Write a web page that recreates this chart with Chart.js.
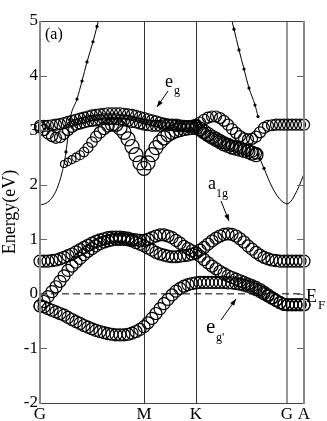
<!DOCTYPE html>
<html>
<head>
<meta charset="utf-8">
<script src="https://cdn.jsdelivr.net/npm/chart.js@4.4.1/dist/chart.umd.min.js"></script>
<style>
  html, body { margin: 0; padding: 0; background: #fff; }
  canvas { display: block; }
</style>
</head>
<body>
<canvas id="bandChart" width="327" height="421"></canvas>
<script>
// k-path sample points (arbitrary units along G-M-K-G-A)
const kGrid = [0, 4, 8, 12, 16, 20, 24, 28, 32, 36, 40, 44, 48, 52, 56, 60, 64, 68, 72, 76,
    80, 84, 88, 92, 96, 100, 104, 108, 112, 116, 120, 124, 128, 132, 136, 140, 144, 148, 152, 156,
    160, 164, 168, 172, 176, 180, 184, 188, 192, 196, 200, 204, 208, 212, 216, 220, 224, 228, 232, 236,
    240, 244, 248, 252, 256, 260, 264];
const kTicks = [0, 104, 156, 247, 264];
const kLabels = ['G', 'M', 'K', 'G', 'A'];

// t2g-like fat bands (eV)
const bandT1 = [0.6, 0.6, 0.6, 0.61, 0.62, 0.64, 0.67, 0.7, 0.73, 0.77, 0.81, 0.85, 0.89, 0.93, 0.96, 0.99, 1.01, 1.03, 1.04, 1.04,
    1.04, 1.03, 1.02, 1.0, 0.99, 0.98, 0.98, 1.0, 1.03, 1.06, 1.08, 1.08, 1.06, 1.03, 0.98, 0.93, 0.87, 0.83, 0.79, 0.75,
    0.69, 0.63, 0.57, 0.51, 0.46, 0.41, 0.37, 0.33, 0.3, 0.27, 0.24, 0.21, 0.18, 0.15, 0.12, 0.08, 0.03, -0.02, -0.07, -0.12,
    -0.16, -0.19, -0.2, -0.2, -0.2, -0.2, -0.2];
const bandT2 = [-0.22, -0.14, -0.05, 0.04, 0.13, 0.23, 0.33, 0.43, 0.51, 0.58, 0.65, 0.72, 0.78, 0.83, 0.88, 0.92, 0.95, 0.97, 0.99, 1.0,
    1.0, 1.0, 0.99, 0.97, 0.94, 0.91, 0.88, 0.84, 0.8, 0.76, 0.73, 0.71, 0.69, 0.68, 0.68, 0.69, 0.7, 0.71, 0.73, 0.75,
    0.8, 0.85, 0.91, 0.97, 1.02, 1.06, 1.09, 1.1, 1.09, 1.06, 1.01, 0.95, 0.88, 0.82, 0.76, 0.71, 0.67, 0.64, 0.62, 0.61,
    0.6, 0.6, 0.6, 0.6, 0.6, 0.6, 0.6];
const bandT3 = [-0.22, -0.24, -0.27, -0.3, -0.33, -0.36, -0.39, -0.43, -0.47, -0.51, -0.54, -0.58, -0.61, -0.64, -0.67, -0.69, -0.71, -0.73, -0.74, -0.75,
    -0.75, -0.75, -0.74, -0.72, -0.69, -0.65, -0.6, -0.53, -0.45, -0.36, -0.27, -0.18, -0.1, -0.02, 0.05, 0.1, 0.14, 0.17, 0.19, 0.2,
    0.21, 0.21, 0.21, 0.21, 0.21, 0.21, 0.21, 0.2, 0.2, 0.19, 0.18, 0.16, 0.14, 0.11, 0.08, 0.04, 0.0, -0.04, -0.08, -0.12,
    -0.16, -0.19, -0.2, -0.2, -0.2, -0.2, -0.2];

// eg-like fat bands (eV), null where the band is not drawn
const bandE1 = [3.08, 3.08, 3.08, 3.09, 3.1, 3.11, 3.13, 3.15, 3.17, 3.19, 3.21, 3.23, 3.25, 3.27, 3.28, 3.29, 3.3, 3.31, 3.31, 3.31,
    3.31, 3.3, 3.29, 3.28, 3.26, 3.24, 3.22, 3.2, 3.18, 3.16, 3.14, 3.12, 3.1, 3.09, 3.08, 3.07, 3.07, 3.07, 3.08, 3.1,
    3.14, 3.19, 3.23, 3.25, 3.25, 3.22, 3.17, 3.1, 3.02, 2.95, 2.89, 2.85, 2.83, 2.84, 2.88, 2.96, 3.04, 3.08, 3.09, 3.1,
    3.1, 3.1, 3.1, 3.1, 3.1, 3.1, 3.1];
const bandE2 = [3.05, 3.0, 2.94, 2.89, 2.86, 2.87, 2.93, 3.0, 3.06, 3.1, 3.12, 3.14, 3.16, 3.17, 3.18, 3.19, 3.2, 3.2, 3.2, 3.2,
    3.19, 3.18, 3.17, 3.15, 3.14, 3.12, 3.1, 3.09, 3.08, 3.08, 3.08, 3.09, 3.1, 3.1, 3.1, 3.09, 3.08, 3.07, 3.06, 3.05,
    3.0, 2.95, 2.9, 2.86, 2.82, 2.79, 2.76, 2.73, 2.71, 2.69, 2.67, 2.65, 2.63, 2.6, 2.57, null, null, null, null, null,
    null, null, null, null, null, null, null];
const bandE3 = [null, null, null, null, null, null, 2.38, 2.42, 2.46, 2.5, 2.54, 2.6, 2.68, 2.78, 2.88, 2.96, 3.03, 3.08, 3.1, 3.1,
    3.04, 2.96, 2.84, 2.7, 2.55, 2.4, 2.3, 2.4, 2.55, 2.68, 2.78, 2.86, 2.92, 2.96, 2.99, 3.01, 3.03, 3.04, 3.05, 3.05,
    3.02, 2.97, 2.92, 2.87, 2.83, 2.79, 2.75, 2.72, 2.69, 2.67, 2.65, 2.63, 2.61, 2.58, 2.55, null, null, null, null, null,
    null, null, null, null, null, null, null];

// dispersive (thin line) bands
const lineLeftK = [0, 6, 12, 17, 22, 26, 30, 37, 42, 47, 53, 57, 61];
const lineLeftE = [1.63, 1.66, 1.76, 1.93, 2.22, 2.6, 3.2, 3.57, 3.9, 4.25, 4.62, 4.9, 5.2];
const lineTopRightK = [190, 194, 199, 204, 209, 215, 218];
const lineTopRightE = [5.15, 4.85, 4.47, 4.12, 3.77, 3.46, 3.25];
const lineLowRightK = [218, 220, 224, 228, 232, 236, 240, 244, 247, 251, 255, 259, 264];
const lineLowRightE = [2.55, 2.47, 2.3, 2.12, 1.96, 1.83, 1.73, 1.67, 1.65, 1.7, 1.82, 1.97, 2.2];

const serif = 'Liberation Serif';

function toPoints(ks, es) {
    const pts = [];
    ks.forEach((k, i) => {
        if (es[i] !== null) pts.push({ x: k, y: es[i] });
    });
    return pts;
}

function fatBand(values, radius) {
    return {
        data: toPoints(kGrid, values),
        showLine: false,
        pointStyle: 'circle',
        pointRadius: radius,
        pointBorderWidth: 1.2,
        pointBorderColor: '#000',
        pointBackgroundColor: 'rgba(0,0,0,0)',
        clip: false
    };
}

function thinBand(ks, es) {
    return {
        data: toPoints(ks, es),
        showLine: true,
        borderColor: '#000',
        borderWidth: 1,
        cubicInterpolationMode: 'monotone',
        pointRadius: ctx => (ctx.raw && ctx.raw.y > 2.25) ? 1.6 : 0,
        pointBackgroundColor: '#000',
        pointBorderColor: '#000',
        pointBorderWidth: 0
    };
}

const fermiLine = {
    data: [{ x: 0, y: 0 }, { x: 264, y: 0 }],
    showLine: true,
    borderColor: '#000',
    borderWidth: 1,
    borderDash: [7, 4],
    pointRadius: 0
};

function arrow(c, x1, y1, x2, y2) {
    const a = Math.atan2(y2 - y1, x2 - x1);
    c.beginPath();
    c.moveTo(x1, y1);
    c.lineTo(x2, y2);
    c.stroke();
    c.beginPath();
    c.moveTo(x2, y2);
    c.lineTo(x2 - 7 * Math.cos(a - 0.35), y2 - 7 * Math.sin(a - 0.35));
    c.lineTo(x2 - 7 * Math.cos(a + 0.35), y2 - 7 * Math.sin(a + 0.35));
    c.closePath();
    c.fill();
}

const decorations = {
    id: 'decorations',
    afterDraw(chart) {
        const c = chart.ctx;
        const area = chart.chartArea;
        const ys = chart.scales.y;
        c.save();

        // frame
        c.strokeStyle = '#444';
        c.lineWidth = 1;
        c.beginPath();
        c.moveTo(area.left, area.top + 0.5);
        c.lineTo(area.right, area.top + 0.5);
        c.moveTo(area.left, area.bottom + 0.5);
        c.lineTo(area.right, area.bottom + 0.5);
        c.stroke();
        c.strokeStyle = '#888';
        c.lineWidth = 2;
        c.beginPath();
        c.moveTo(area.left, area.top);
        c.lineTo(area.left, area.bottom + 1);
        c.moveTo(area.right, area.top);
        c.lineTo(area.right, area.bottom + 1);
        c.stroke();

        // inward ticks
        c.strokeStyle = '#666';
        c.lineWidth = 1;
        c.beginPath();
        for (let v = -1; v <= 4; v++) {
            const y = Math.round(ys.getPixelForValue(v)) + 0.5;
            c.moveTo(area.left, y);
            c.lineTo(area.left + 7, y);
            c.moveTo(area.right - 7, y);
            c.lineTo(area.right, y);
        }
        c.stroke();

        // labels
        c.fillStyle = '#000';
        c.strokeStyle = '#000';
        c.textBaseline = 'alphabetic';
        c.textAlign = 'left';

        c.font = '16px "' + serif + '"';
        c.fillText('(a)', 45, 39);

        // y title
        c.save();
        c.translate(15, (area.top + area.bottom) / 2);
        c.rotate(-Math.PI / 2);
        c.textAlign = 'center';
        c.font = '18px "' + serif + '"';
        c.fillText('Energy(eV)', 0, 0);
        c.restore();

        // e_g
        c.font = '18px "' + serif + '"';
        c.fillText('e', 165, 87);
        c.font = '12px "' + serif + '"';
        c.fillText('g', 174, 94);
        c.lineWidth = 1;
        arrow(c, 168, 91, 157, 107);

        // a_1g
        c.font = '18px "' + serif + '"';
        c.fillText('a', 208, 189);
        c.font = '12px "' + serif + '"';
        c.fillText('1g', 216, 197);
        arrow(c, 221, 201, 229, 221);

        // e_g'
        c.font = '21px "' + serif + '"';
        c.fillText('e', 206, 333);
        c.font = '12px "' + serif + '"';
        c.fillText("g'", 216, 341);
        arrow(c, 221, 320, 236, 299);

        // E_F
        c.font = '18px "' + serif + '"';
        c.fillText('E', 306, 302);
        c.font = '13px "' + serif + '"';
        c.fillText('F', 318, 309);

        c.restore();
    }
};

const ctx = document.getElementById('bandChart').getContext('2d');
const bandChart = new Chart(ctx, {
    type: 'scatter',
    data: {
        datasets: [
            fermiLine,
            thinBand(lineLeftK, lineLeftE),
            thinBand(lineTopRightK, lineTopRightE),
            thinBand(lineLowRightK, lineLowRightE),
            fatBand(bandT1, 6),
            fatBand(bandT2, 6),
            fatBand(bandT3, 6),
            fatBand(bandE1, 5.5),
            fatBand(bandE2, 5.5),
            // lower eg band: circles grow from the anticrossing towards M
            fatBand(bandE3, c => Math.min(7, 3.5 + c.dataIndex * 0.25))
        ]
    },
    options: {
        responsive: false,
        animation: false,
        events: [],
        layout: { padding: { top: 21, right: 23, left: 0, bottom: 0 } },
        plugins: {
            legend: { display: false },
            tooltip: { enabled: false }
        },
        scales: {
            x: {
                type: 'linear',
                min: 0,
                max: 264,
                afterBuildTicks: scale => {
                    scale.ticks = kTicks.map(v => ({ value: v }));
                },
                afterFit: scale => { scale.height = 18; },
                ticks: {
                    autoSkip: false,
                    maxRotation: 0,
                    padding: 1,
                    color: '#000',
                    font: { family: serif, size: 17 },
                    callback: (value, index) => kLabels[index]
                },
                grid: {
                    drawTicks: false,
                    color: c => (c.index === 1 || c.index === 2) ? '#333' : (c.index === 3 ? '#999' : 'rgba(0,0,0,0)'),
                    lineWidth: c => c.index === 3 ? 2 : 1
                },
                border: { display: false }
            },
            y: {
                min: -2,
                max: 5,
                afterFit: scale => { scale.width = 40; },
                ticks: {
                    stepSize: 1,
                    padding: 2,
                    color: '#000',
                    font: { family: serif, size: 17 }
                },
                grid: { display: false, drawTicks: false },
                border: { display: false }
            }
        }
    },
    plugins: [decorations]
});
</script>
</body>
</html>
